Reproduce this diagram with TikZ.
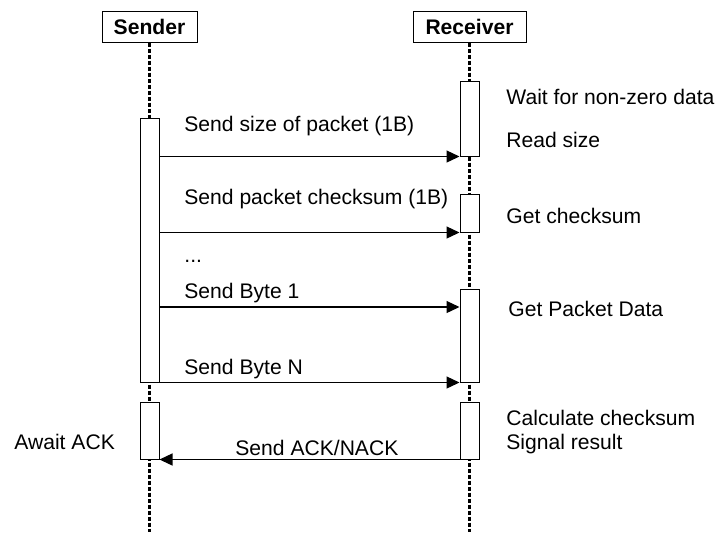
\documentclass[tikz,border=0pt]{standalone}
\usepackage{fontspec}
\setmainfont{Liberation Sans}
\usetikzlibrary{arrows.meta}
\begin{document}
\begin{tikzpicture}[x=0.5pt,y=-0.5pt,
  every node/.style={font=\fontsize{10.55}{12.5}\selectfont},
  head/.style={draw, line width=0.5pt, font=\fontsize{10.55}{12.5}\selectfont\bfseries, minimum height=15.5pt, inner sep=0pt},
  act/.style={draw, fill=white, line width=0.5pt, minimum width=9.5pt, inner sep=0pt},
  life/.style={line width=1.5pt, dash pattern=on 2pt off 1pt},
  msg/.style={line width=0.65pt, -{Triangle[length=6.5pt,width=6pt]}},
  lbl/.style={anchor=base west, inner sep=0pt}]
\useasboundingbox (0,0) rectangle (717,532);
\node[head, minimum width=47.5pt] (snd) at (149.5,26.5) {Sender};
\node[head, minimum width=56.5pt] (rcv) at (469.5,26.5) {Receiver};
\coordinate (sndend) at (149.5,532);
\coordinate (rcvend) at (469.5,532);
\draw[life] (snd.south) -- (sndend);
\draw[life] (rcv.south) -- (rcvend);
\node[act, minimum height=132pt] (s1) at (149.5,250) {};
\node[act, minimum height=28.5pt] (s2) at (149.5,430.5) {};
\node[act, minimum height=37.5pt] (r1) at (469.5,118.5) {};
\node[act, minimum height=19pt] (r2) at (469.5,213) {};
\node[act, minimum height=46.5pt] (r3) at (469.5,335.5) {};
\node[act, minimum height=28.5pt] (r4) at (469.5,430.5) {};
\coordinate (m3) at (0,307);
\draw[msg] (s1.east |- r1.south) -- (r1.south west);
\draw[msg] (s1.east |- r2.south) -- (r2.south west);
\draw[msg] (s1.east |- m3) -- (r3.west |- m3);
\draw[msg] (s1.south east) -- (r3.south west);
\draw[msg] (r4.south west) -- (s2.south east);
\node[lbl] (l1) at (184,131) {Send size of packet (1B)};
\node[lbl] (l2) at (184,204) {Send packet checksum (1B)};
\node[lbl] (l3) at (184,262) {...};
\node[lbl] (l4) at (184,298) {Send Byte 1};
\node[lbl] (l5) at (184,374) {Send Byte N};
\node[lbl] (l6) at (235,455) {Send ACK/NACK};
\node[lbl] (n1) at (506,104) {Wait for non-zero data};
\node[lbl] (n2) at (506,147) {Read size};
\node[lbl] (n3) at (506,223) {Get checksum};
\node[lbl] (n4) at (508,316) {Get Packet Data};
\node[lbl] (n5) at (506,425) {Calculate checksum};
\node[lbl] (n6) at (506,449) {Signal result};
\node[lbl] (n7) at (14,449) {Await ACK};
\end{tikzpicture}
\end{document}
